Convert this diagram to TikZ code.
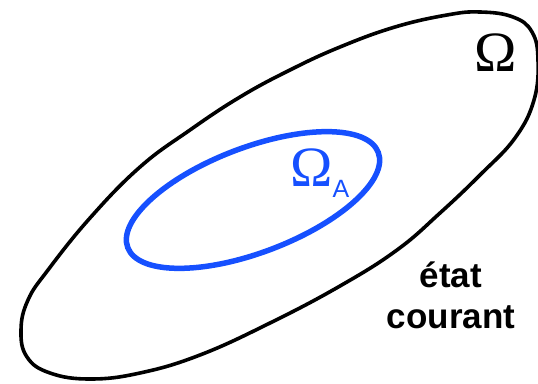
\documentclass[tikz,border=0pt]{standalone}
\usepackage{fontspec}
\setmainfont{Liberation Sans}
\newfontfamily\grfont{Liberation Serif}
\definecolor{setblue}{RGB}{22,80,255}

\begin{document}
\begin{tikzpicture}[
  x=1pt, y=1pt,
  every node/.style={inner sep=0pt},
  outerset/.style={draw=black, line width=3.6pt},
  innerset/.style={draw=setblue, line width=5.5pt},
  setname/.style={font=\grfont\fontsize{57}{57}\selectfont},
  state/.style={font=\bfseries\fontsize{35}{41}\selectfont, align=center},
]
\useasboundingbox (0,0) rectangle (538,383);

% domaine Omega
\draw[outerset] plot[smooth cycle, tension=0.7] coordinates {
  (447,368) (480,371) (513,366) (532,351) (538,323) (534,283)
  (515,245) (480,208) (440,170) (397,133) (340,97) (270,60)
  (200,28) (140,10) (90,4) (50,10) (27,26) (21,53)
  (28,83) (48,113) (90,165) (140,216) (190,253) (240,286)
  (290,313) (340,336) (395,356)};

% sous-domaine Omega_A
\draw[innerset, rotate around={20.8:(253,183)}] (253,183) ellipse (134 and 52.5);

\node[setname, anchor=base] (omega) at (496,311) {Ω};
\node[setname, text=setblue, anchor=base west] (omegaA) at (290,196)
  {Ω\raisebox{-11pt}{\normalfont\fontsize{25}{25}\selectfont A}};
\node[state] (etat) at (451,88) {état\\courant};
\end{tikzpicture}
\end{document}
